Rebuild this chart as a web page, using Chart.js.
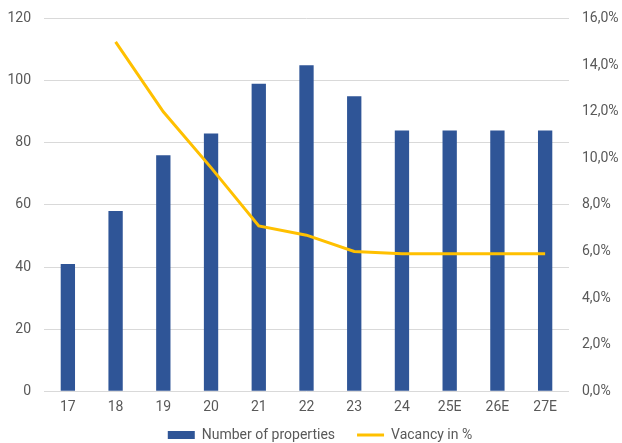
<!DOCTYPE html>
<html>
<head>
<meta charset="utf-8">
<script src="https://cdn.jsdelivr.net/npm/chart.js@4/dist/chart.umd.min.js"></script>
<style>
  html, body { margin: 0; padding: 0; background: #fff; }
  #wrap { width: 622px; height: 443px; }
</style>
</head>
<body>
<div id="wrap"><canvas id="chart"></canvas></div>
<script>
// dados
const anos = ['17', '18', '19', '20', '21', '22', '23', '24', '25E', '26E', '27E'];
const numeroImoveis = [41, 58, 76, 83, 99, 105, 95, 84, 84, 84, 84];
const vacancia = [null, 15.0, 12.0, 9.6, 7.1, 6.7, 6.0, 5.9, 5.9, 5.9, 5.9];

const corTexto = '#595959';
const corGrade = '#d9d9d9';
const fonte = { family: 'Roboto', size: 14 };
const fonteEixoY = { family: 'Roboto', size: 14, lineHeight: 0.8 };

// desloca a legenda para a posição do original
const ajusteLegenda = {
  id: 'ajusteLegenda',
  afterLayout(chart) {
    const lg = chart.legend;
    if (!lg) return;
    lg.top -= 10; lg.bottom -= 10;
    lg.left += 9; lg.right += 9;
  }
};

const ctx = document.getElementById('chart').getContext('2d');
new Chart(ctx, {
  type: 'bar',
  data: {
    labels: anos,
    datasets: [
      {
        label: 'Number of properties',
        data: numeroImoveis,
        backgroundColor: '#2F5597',
        borderWidth: 0,
        barPercentage: 0.6,
        categoryPercentage: 0.5,
        yAxisID: 'y',
        order: 1,
        pointStyle: 'rect',
      },
      {
        type: 'line',
        label: 'Vacancy in %',
        data: vacancia,
        borderColor: '#FFC000',
        backgroundColor: '#FFC000',
        borderWidth: 3,
        tension: 0,
        pointRadius: 0,
        pointStyle: 'line',
        yAxisID: 'y1',
        order: 0,
      }
    ]
  },
  plugins: [ajusteLegenda],
  options: {
    responsive: true,
    maintainAspectRatio: false,
    animation: false,
    layout: { padding: { top: 0, right: 0, left: 0, bottom: -19 } },
    plugins: {
      legend: {
        position: 'bottom',
        labels: {
          usePointStyle: true,
          pointStyleWidth: 27,
          boxHeight: 8,
          padding: 22,
          color: corTexto,
          font: fonte,
          sort: (a, b) => a.datasetIndex - b.datasetIndex,
        }
      },
      tooltip: { enabled: false }
    },
    scales: {
      x: {
        grid: { display: false },
        border: { display: false },
        ticks: { color: corTexto, font: fonte, maxRotation: 0, padding: 0 }
      },
      y: {
        position: 'left',
        min: 0,
        max: 120,
        ticks: { stepSize: 20, color: corTexto, font: fonteEixoY, padding: 13 },
        grid: { color: corGrade, lineWidth: 1, drawTicks: false },
        border: { display: false },
        afterFit: s => { s.width = 44; }
      },
      y1: {
        position: 'right',
        min: 0,
        max: 16,
        ticks: {
          stepSize: 2,
          color: corTexto,
          font: fonteEixoY,
          padding: 13,
          callback: v => v.toFixed(1).replace('.', ',') + '%'
        },
        grid: { display: false, drawTicks: false },
        border: { display: false },
        afterFit: s => { s.width = 53; }
      }
    }
  }
});
</script>
</body>
</html>
